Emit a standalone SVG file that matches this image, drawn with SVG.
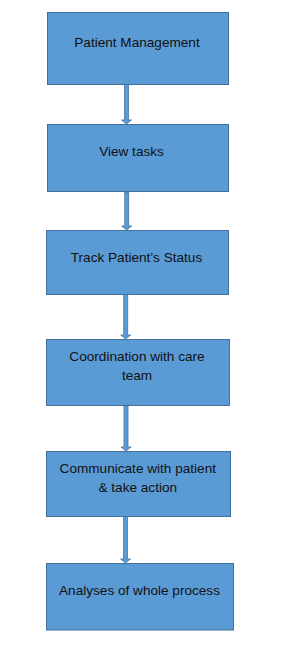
<svg xmlns="http://www.w3.org/2000/svg" width="283" height="668" viewBox="0 0 283 668">
<style>
.box{fill:#5B9BD5;stroke:#41719C;stroke-width:1}
.arr{fill:#5B9BD5;stroke:#41719C;stroke-width:0.75}
.t{font-family:"Liberation Sans",Arial,sans-serif;font-size:13.6px;fill:#111;text-anchor:middle}
</style>
<rect width="283" height="668" fill="#fff"/>
<g id="connectors">
<polygon class="arr" points="124.5,84.5 128.5,84.5 128.5,120 131.5,120 126.5,124 121.5,120 124.5,120"/>
<polygon class="arr" points="124.7,192 128.7,192 128.7,226 131.7,226 126.7,230 121.7,226 124.7,226"/>
<polygon class="arr" points="123.7,294.5 127.7,294.5 127.7,335 130.7,335 125.7,339 120.7,335 123.7,335"/>
<polygon class="arr" points="124,405.5 128,405.5 128,447 131,447 126,451 121,447 124,447"/>
<polygon class="arr" points="123.5,516.5 127.5,516.5 127.5,559 130.5,559 125.5,563 120.5,559 123.5,559"/>
</g>
<g id="n1"><rect class="box" x="47.5" y="12.5" width="181" height="72"/><text class="t" x="137" y="47">Patient Management</text></g>
<g id="n2"><rect class="box" x="47.5" y="124.5" width="181" height="67"/><text class="t" x="131.5" y="156">View tasks</text></g>
<g id="n3"><rect class="box" x="46.5" y="230.5" width="182" height="64"/><text class="t" x="136.5" y="262">Track Patient’s Status</text></g>
<g id="n4"><rect class="box" x="46.5" y="339.5" width="183" height="66"/><text class="t" x="137" y="361">Coordination with care</text><text class="t" x="137" y="379.5">team</text></g>
<g id="n5"><rect class="box" x="46.5" y="451.5" width="184" height="65"/><text class="t" x="137.8" y="473">Communicate with patient</text><text class="t" x="137.8" y="491.5">&amp; take action</text></g>
<g id="n6"><rect class="box" x="46.5" y="563.5" width="187" height="66.5"/><text class="t" x="139.5" y="595">Analyses of whole process</text></g>
</svg>
